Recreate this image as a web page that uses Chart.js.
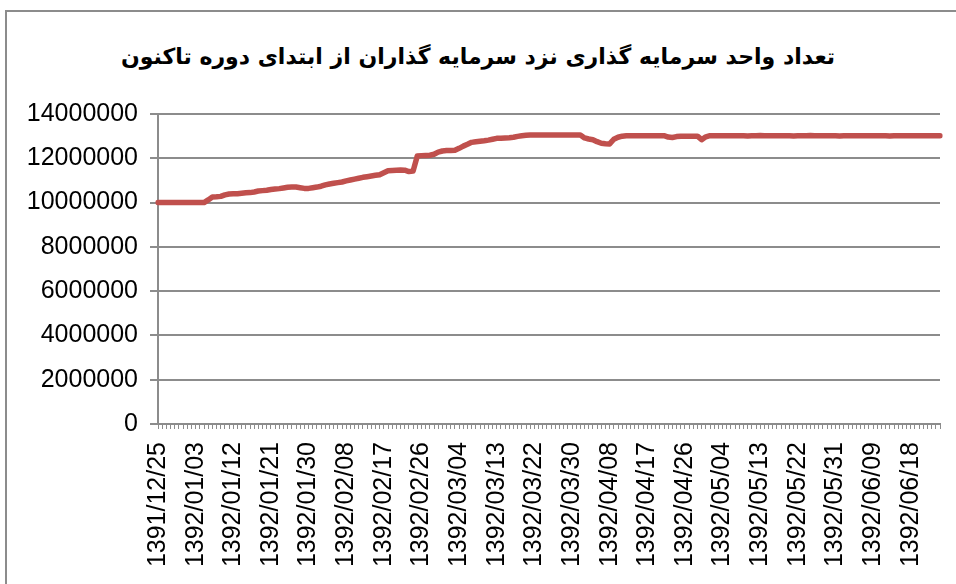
<!DOCTYPE html>
<html>
<head>
<meta charset="utf-8">
<script src="https://cdn.jsdelivr.net/npm/chart.js@4"></script>
<style>
  html, body { margin: 0; padding: 0; background: #fff; }
  #wrap { position: relative; width: 956px; height: 584px; overflow: hidden; }
  #frame { position: absolute; left: 5px; top: 10px; width: 1000px; height: 700px; border: 2px solid #8c8c8c; }
  #title {
    position: absolute; left: 0; top: 44px; width: 956px; text-align: center;
    font-family: 'DejaVu Sans', sans-serif; font-weight: bold; font-size: 22px;
    direction: rtl; color: #000;
  }
  canvas { position: absolute; left: 0; top: 0; }
</style>
</head>
<body>
<div id="wrap">
  <div id="frame"></div>
  <div id="title">تعداد واحد سرمایه گذاری نزد سرمایه گذاران از ابتدای دوره تاکنون</div>
  <canvas id="unitsChart" width="956" height="584"></canvas>
</div>
<script>
// Units held by investors, daily (Persian calendar dates)
const tickLabels = [
  '1391/12/25', '1392/01/03', '1392/01/12', '1392/01/21', '1392/01/30',
  '1392/02/08', '1392/02/17', '1392/02/26', '1392/03/04', '1392/03/13',
  '1392/03/22', '1392/03/30', '1392/04/08', '1392/04/17', '1392/04/26',
  '1392/05/04', '1392/05/13', '1392/05/22', '1392/05/31', '1392/06/09',
  '1392/06/18'
];
const labelEvery = 9;

const units = [
  10000000, 10000000, 10000000, 10000000, 10000000, 10000000, 10000000, 10000000, 10000000, 10000000,
  10000000, 10000000, 10120000, 10250000, 10260000, 10280000, 10350000, 10390000, 10400000, 10400000,
  10420000, 10440000, 10450000, 10480000, 10520000, 10540000, 10560000, 10590000, 10610000, 10630000,
  10660000, 10690000, 10700000, 10700000, 10670000, 10640000, 10640000, 10670000, 10700000, 10740000,
  10800000, 10840000, 10870000, 10900000, 10930000, 10980000, 11020000, 11060000, 11100000, 11140000,
  11170000, 11200000, 11230000, 11260000, 11350000, 11440000, 11450000, 11460000, 11470000, 11460000,
  11400000, 11420000, 12100000, 12120000, 12130000, 12140000, 12180000, 12280000, 12330000, 12350000,
  12350000, 12360000, 12450000, 12550000, 12630000, 12720000, 12750000, 12770000, 12790000, 12820000,
  12860000, 12900000, 12910000, 12920000, 12930000, 12950000, 12990000, 13020000, 13040000, 13050000,
  13050000, 13050000, 13050000, 13050000, 13050000, 13050000, 13050000, 13050000, 13050000, 13050000,
  13050000, 13050000, 12920000, 12870000, 12840000, 12750000, 12680000, 12660000, 12650000, 12860000,
  12950000, 13000000, 13020000, 13020000, 13020000, 13020000, 13020000, 13020000, 13020000, 13020000,
  13020000, 13020000, 12960000, 12940000, 12980000, 13000000, 13000000, 13000000, 13000000, 13000000,
  12840000, 12970000, 13020000, 13020000, 13020000, 13020000, 13020000, 13020000, 13020000, 13020000,
  13020000, 13010000, 13020000, 13020000, 13030000, 13020000, 13020000, 13020000, 13020000, 13020000,
  13020000, 13020000, 13010000, 13020000, 13020000, 13020000, 13030000, 13020000, 13020000, 13020000,
  13020000, 13020000, 13020000, 13010000, 13020000, 13020000, 13020000, 13020000, 13020000, 13020000,
  13020000, 13020000, 13020000, 13020000, 13020000, 13010000, 13020000, 13020000, 13020000, 13020000,
  13020000, 13020000, 13020000, 13020000, 13020000, 13020000, 13020000, 13020000
];

// Helper: daily Persian dates starting at 1391/12/25
function buildDates(count) {
  const out = [];
  let y = 1391, m = 12, d = 25;
  const monthLen = (yy, mm) => mm <= 6 ? 31 : (mm <= 11 ? 30 : (yy === 1391 ? 30 : 29));
  for (let i = 0; i < count; i++) {
    out.push(`${y}/${String(m).padStart(2, '0')}/${String(d).padStart(2, '0')}`);
    d++;
    if (d > monthLen(y, m)) { d = 1; m++; if (m > 12) { m = 1; y++; } }
  }
  return out;
}
const dates = buildDates(units.length);

const gridGray = '#8c8c8c';
const ctx = document.getElementById('unitsChart').getContext('2d');

new Chart(ctx, {
  type: 'line',
  data: {
    labels: dates,
    datasets: [{
      label: 'Units',
      data: units,
      borderColor: '#C0504D',
      borderWidth: 5.5,
      borderCapStyle: 'round',
      borderJoinStyle: 'round',
      pointRadius: 0,
      tension: 0,
      fill: false
    }]
  },
  options: {
    responsive: false,
    animation: false,
    layout: { padding: { left: 8, top: 114, right: 16, bottom: 0 } },
    plugins: {
      legend: { display: false },
      tooltip: { enabled: false }
    },
    scales: {
      x: {
        type: 'category',
        offset: false,
        afterFit: (scale) => {
          scale.height = 160;
          scale.paddingLeft = 0;
          scale.paddingRight = 0;
        },
        border: { display: true, color: gridGray, width: 2 },
        grid: {
          display: true,
          drawOnChartArea: false,
          drawTicks: true,
          tickLength: 5,
          color: gridGray,
          lineWidth: 1
        },
        ticks: {
          autoSkip: false,
          maxRotation: 90,
          minRotation: 90,
          padding: 13,
          color: '#000',
          font: { family: 'Liberation Sans', size: 25 },
          callback: (val, i) => i % labelEvery === 0 ? (tickLabels[i / labelEvery] || '') : ''
        }
      },
      y: {
        min: 0,
        max: 14000000,
        afterFit: (scale) => { scale.width = 150; },
        border: { display: true, color: gridGray, width: 2 },
        grid: {
          color: gridGray,
          lineWidth: 2,
          tickLength: 8
        },
        ticks: {
          stepSize: 2000000,
          padding: 12,
          color: '#000',
          font: { family: 'Liberation Sans', size: 25 },
          callback: (val) => String(val)
        }
      }
    }
  }
});
</script>
</body>
</html>
